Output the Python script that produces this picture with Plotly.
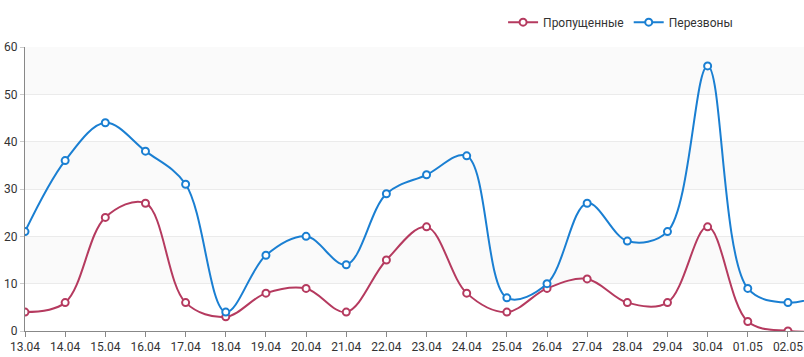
import plotly.graph_objects as go

dates = ["13.04", "14.04", "15.04", "16.04", "17.04", "18.04", "19.04", "20.04", "21.04",
         "22.04", "23.04", "24.04", "25.04", "26.04", "27.04", "28.04", "29.04", "30.04",
         "01.05", "02.05", "03.05"]
missed = [4, 6, 24, 27, 6, 3, 8, 9, 4, 15, 22, 8, 4, 9, 11, 6, 6, 22, 2, 0, 0]
callbacks = [21, 36, 44, 38, 31, 4, 16, 20, 14, 29, 33, 37, 7, 10, 27, 19, 21, 56, 9, 6, 8]
y_ticks = [0, 10, 20, 30, 40, 50, 60]

RED = "#b53a5f"
BLUE = "#1a7fd2"

x_idx = list(range(len(dates)))

fig = go.Figure()
for name, vals, col in [("Пропущенные", missed, RED), ("Перезвоны", callbacks, BLUE)]:
    fig.add_trace(go.Scatter(
        x=x_idx, y=vals, name=name, mode="lines+markers",
        line=dict(color=col, width=2, shape="spline", smoothing=1),
        marker=dict(symbol="circle", size=7, color="white", line=dict(color=col, width=2)),
        cliponaxis=True,
    ))

shapes = []
for lo in [50, 30, 10]:
    shapes.append(dict(type="rect", xref="paper", yref="y", x0=0, x1=1, y0=lo, y1=lo + 10,
                       fillcolor="#fafafa", line=dict(width=0), layer="below"))

fig.update_layout(
    width=804, height=357,
    margin=dict(l=25, r=0, t=47, b=26, autoexpand=False),
    plot_bgcolor="white", paper_bgcolor="white",
    font=dict(family="Roboto", size=12, color="#333333"),
    shapes=shapes,
    showlegend=True,
    legend=dict(orientation="h", xref="container", yref="container",
                x=0.918, xanchor="right", y=0.938, yanchor="middle",
                font=dict(size=12, color="#333333"), bgcolor="rgba(0,0,0,0)",
                itemwidth=30, tracegroupgap=0),
    xaxis=dict(range=[0, 19.4], tickvals=x_idx[:-1], ticktext=dates[:-1], automargin=False,
               showgrid=False, zeroline=False, showline=True, linecolor="#888888", linewidth=1,
               ticks="outside", ticklen=5, tickcolor="#888888",
               tickfont=dict(size=12, color="#333333")),
    yaxis=dict(range=[0, 60], tickvals=y_ticks, showgrid=True, gridcolor="#ebebeb", gridwidth=1,
               automargin=False,
               zeroline=False, showline=True, linecolor="#888888", linewidth=1,
               ticks="outside", ticklen=4, tickcolor="#cccccc",
               tickfont=dict(size=12, color="#333333")),
)

fig.write_html("out.html", config={"displayModeBar": False},
               post_script="document.body.style.margin='0';document.body.style.overflow='hidden';")
